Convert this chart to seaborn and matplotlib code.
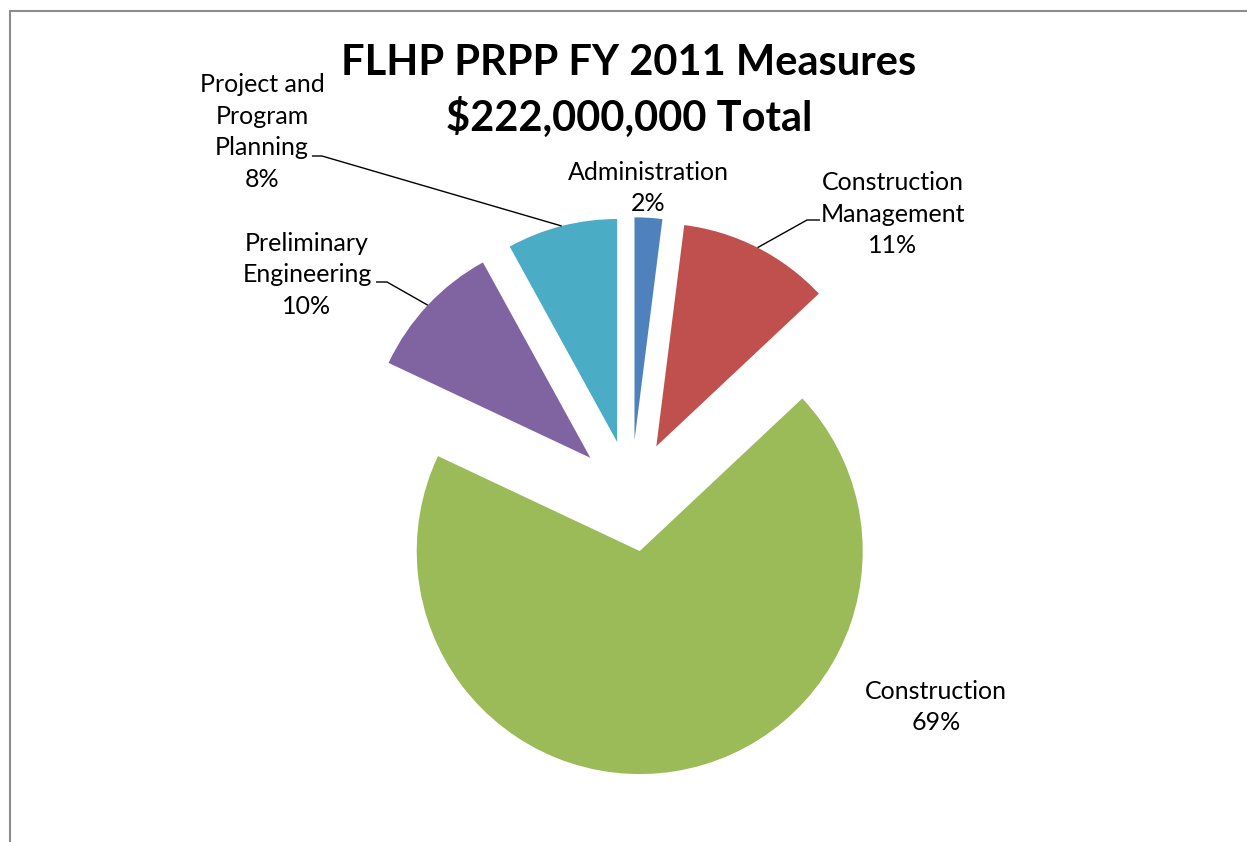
import numpy as np
import matplotlib
matplotlib.use("Agg")
import matplotlib.pyplot as plt
from matplotlib.lines import Line2D
import seaborn as sns

# data
categories = ["Administration", "Construction\nManagement", "Construction",
              "Preliminary\nEngineering", "Project and\nProgram\nPlanning"]
shares = [2, 11, 69, 10, 8]
colors = ["#4F81BD", "#C0504D", "#9BBB59", "#8064A2", "#4BACC6"]
title_lines = ["FLHP PRPP FY 2011 Measures", "$222,000,000 Total"]

sns.set_theme(style="white")
plt.rcParams["font.family"] = ["Lato", "DejaVu Sans"]

W, H = 1247, 842
fig = plt.figure(figsize=(W / 100, H / 100), dpi=100)
ax = fig.add_axes([0, 0, 1, 1])

palette = sns.color_palette(colors)
wedges, _ = ax.pie(shares, colors=palette, startangle=90, counterclock=False,
                   explode=[0.25] * len(shares), radius=1.0,
                   wedgeprops=dict(linewidth=0))

# map pixel layout to data units (pie radius ~ 223 px, centre at 631, 496)
R_PX, CX, CY = 223.0, 631.0, 496.0
def px(x, y):
    return (x - CX) / R_PX, (CY - y) / R_PX

ax.set_xlim(px(0, 0)[0], px(W, 0)[0])
ax.set_ylim(px(0, H)[1], px(0, 0)[1])
ax.set_aspect("auto")
ax.axis("off")

def arc_mid(w):
    a = np.deg2rad((w.theta1 + w.theta2) / 2)
    cx, cy = w.center
    return cx + w.r * np.cos(a), cy + w.r * np.sin(a)

fs = 18
ls = 1.45
# label text positions in pixels (centre of block)
label_pos = [(648, 188), (893, 214), (936, 707), (307, 275), (262, 132)]
# leader lines: (elbow, end) in pixels, None for no line
leaders = [None, ((807, 220), (820, 220)), None,
           ((387, 282), (376, 282)), ((322, 156), (312, 156))]

for w, cat, s, pos, ld in zip(wedges, categories, shares, label_pos, leaders):
    tx, ty = px(*pos)
    ax.text(tx, ty, f"{cat}\n{s}%", ha="center", va="center", fontsize=fs,
            linespacing=ls, color="black", multialignment="center")
    if ld is not None:
        mx, my = arc_mid(w)
        ex, ey = px(*ld[0])
        fx, fy = px(*ld[1])
        ax.plot([mx, ex, fx], [my, ey, fy], color="black", lw=1.0,
                solid_capstyle="butt")

fig.text(629 / W, 1 - 91 / H, "\n".join(title_lines), ha="center", va="center",
         fontsize=30, fontweight="bold", linespacing=1.42, color="black")

# chart border (top and left edges visible)
bx, by = 9.5 / W, 1 - 10.5 / H
fig.add_artist(Line2D([bx, 1], [by, by], color="#8c8c8c", lw=1.5,
                      transform=fig.transFigure))
fig.add_artist(Line2D([bx, bx], [0, by], color="#8c8c8c", lw=1.5,
                      transform=fig.transFigure))

fig.savefig("out.png", dpi=100, facecolor="white")
